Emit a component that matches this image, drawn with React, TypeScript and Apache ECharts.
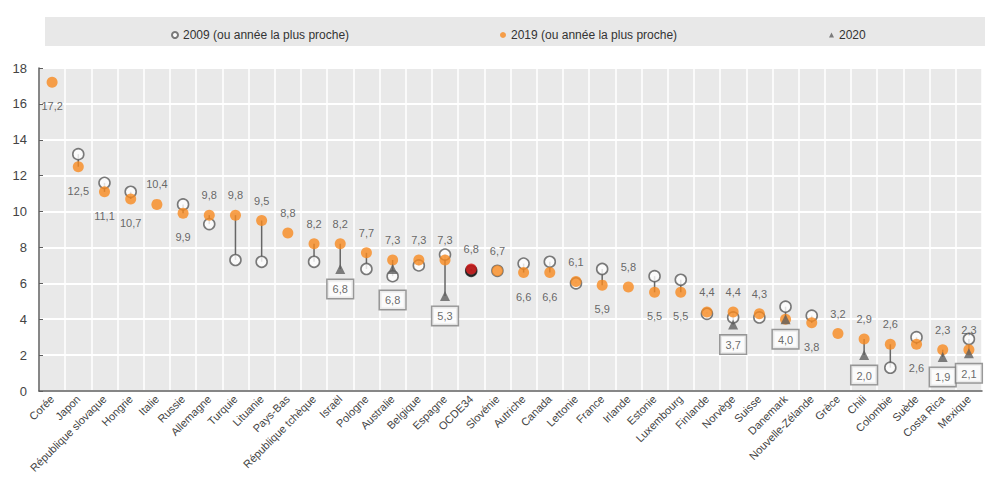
import React, { useEffect, useRef } from "react";
import * as echarts from "echarts";

const categories = [
  "Corée", "Japon", "République slovaque", "Hongrie", "Italie", "Russie", "Allemagne", "Turquie",
  "Lituanie", "Pays-Bas", "République tchèque", "Israël", "Pologne", "Australie", "Belgique", "Espagne",
  "OCDE34", "Slovénie", "Autriche", "Canada", "Lettonie", "France", "Irlande", "Estonie", "Luxembourg",
  "Finlande", "Norvège", "Suisse", "Danemark", "Nouvelle-Zélande", "Grèce", "Chili", "Colombie", "Suède",
  "Costa Rica", "Mexique",
];

const v2009: (number | null)[] = [
  null, 13.2, 11.6, 11.1, null, 10.4, 9.3, 7.3, 7.2, null, 7.2, null, 6.8, 6.4, 7.0, 7.6,
  6.7, 6.7, 7.1, 7.2, 6.0, 6.8, null, 6.4, 6.2, 4.3, 4.1, 4.1, 4.7, 4.2, null, null, 1.3, 3.0, null, 2.9,
];

const v2019: number[] = [
  17.2, 12.5, 11.1, 10.7, 10.4, 9.9, 9.8, 9.8, 9.5, 8.8, 8.2, 8.2, 7.7, 7.3, 7.3, 7.3,
  6.8, 6.7, 6.6, 6.6, 6.1, 5.9, 5.8, 5.5, 5.5, 4.4, 4.4, 4.3, 4.0, 3.8, 3.2, 2.9, 2.6, 2.6, 2.3, 2.3,
];

const v2020: (number | null)[] = [
  null, null, null, null, null, null, null, null, null, null, null, 6.8, null, 6.8, null, 5.3,
  null, null, null, null, null, null, null, null, null, null, 3.7, null, 4.0, null, null, 2.0, null, null, 1.9, 2.1,
];

const labelPos2019 = [
  "bottom", "bottom", "bottom", "bottom", "top", "bottom", "top", "top", "top", "top", "top", "top",
  "top", "top", "top", "top", "top", "top", "bottom", "bottom", "top", "bottom", "top", "bottom",
  "bottom", "top", "top", "top", "none", "bottom", "top", "top", "top", "bottom", "top", "top",
];

const legendNames = ["2009 (ou année la plus proche)", "2019 (ou année la plus proche)", "2020"];
const yTicks = { min: 0, max: 18, interval: 2 };

const ORANGE = "#f7891f";
const GREY = "#5f5f5f";
const FONT = "Liberation Sans";
const fmt = (v: number) => v.toFixed(1).replace(".", ",");

export default function App() {
  const ref = useRef<HTMLDivElement>(null);
  useEffect(() => {
    if (!ref.current) return;
    const chart = echarts.init(ref.current, undefined, { renderer: "svg" });

    const connectors = categories.map((_, i) => {
      const vals = [v2009[i], v2019[i], v2020[i]].filter((v) => v != null) as number[];
      return [i, Math.min(...vals), Math.max(...vals)];
    });

    const data2009 = v2009.map((v, i) =>
      v == null
        ? { value: null }
        : categories[i] === "OCDE34"
        ? { value: v, itemStyle: { color: "#111", borderColor: "#111" } }
        : { value: v }
    );

    const data2019 = v2019.map((v, i) => {
      const pos = labelPos2019[i];
      return {
        value: v,
        itemStyle: categories[i] === "OCDE34" ? { color: "#d91a1a" } : undefined,
        label: {
          show: pos !== "none",
          position: pos === "none" ? "top" : pos,
          distance: pos === "top" ? 9 : 13,
        },
      };
    });

    const data2020 = v2020.map((v, i) =>
      v == null
        ? { value: null }
        : { value: v, label: { distance: categories[i] === "Australie" ? 17 : 6 } }
    );

    chart.setOption({
      animation: false,
      textStyle: { fontFamily: FONT },
      graphic: [
        {
          type: "rect",
          shape: { x: 45, y: 17, width: 940, height: 29 },
          style: { fill: "#e8e8e8" },
          z: -1,
        },
      ],
      legend: [
        {
          data: [legendNames[0]],
          left: 166,
          top: 24,
          itemWidth: 6,
          itemHeight: 6,
          textStyle: { fontSize: 12, color: "#333", fontFamily: FONT },
        },
        {
          data: [legendNames[1]],
          left: 495,
          top: 24,
          itemWidth: 6,
          itemHeight: 6,
          textStyle: { fontSize: 12, color: "#333", fontFamily: FONT },
        },
        {
          data: [legendNames[2]],
          left: 824,
          top: 24,
          itemWidth: 5,
          itemHeight: 5,
          textStyle: { fontSize: 12, color: "#333", fontFamily: FONT },
        },
      ],
      grid: {
        left: 39,
        right: 18,
        top: 68,
        bottom: 105,
        show: true,
        backgroundColor: "#e9e9e9",
        borderWidth: 0,
      },
      xAxis: {
        type: "category",
        data: categories,
        boundaryGap: true,
        axisLine: { lineStyle: { color: GREY, width: 1.5 } },
        axisTick: { inside: true, length: 4, lineStyle: { color: GREY }, alignWithLabel: false },
        splitLine: { show: true, lineStyle: { color: "#ffffff", width: 1.5 } },
        axisLabel: {
          interval: 0,
          rotate: 45,
          fontSize: 11,
          color: "#444",
          margin: 6,
          fontFamily: FONT,
        },
      },
      yAxis: {
        type: "value",
        min: yTicks.min,
        max: yTicks.max,
        interval: yTicks.interval,
        axisLine: { show: true, lineStyle: { color: GREY, width: 1.5 } },
        axisTick: { show: true, inside: true, length: 4, lineStyle: { color: GREY } },
        splitLine: { show: true, lineStyle: { color: "#ffffff", width: 2 } },
        axisLabel: { fontSize: 13, color: "#444", margin: 12, fontFamily: FONT },
      },
      series: [
        {
          type: "custom",
          name: "liens",
          data: connectors,
          encode: { x: 0, y: [1, 2] },
          silent: true,
          renderItem: (params: any, api: any) => {
            const x = api.value(0);
            const p1 = api.coord([x, api.value(1)]);
            const p2 = api.coord([x, api.value(2)]);
            return {
              type: "line",
              shape: { x1: p1[0], y1: p1[1], x2: p2[0], y2: p2[1] },
              style: { stroke: "#666", lineWidth: 1.5 },
            };
          },
        },
        {
          type: "scatter",
          name: legendNames[0],
          data: data2009,
          symbol: "circle",
          symbolSize: 11,
          itemStyle: { color: "#ffffff", borderColor: "#5a5a5a", borderWidth: 1.6 },
        },
        {
          type: "scatter",
          name: legendNames[1],
          data: data2019,
          symbol: "circle",
          symbolSize: 11,
          itemStyle: { color: ORANGE },
          label: {
            show: true,
            fontSize: 11,
            color: "#444",
            fontFamily: FONT,
            formatter: (p: any) => fmt(p.value),
          },
        },
        {
          type: "scatter",
          name: legendNames[2],
          data: data2020,
          symbol: "triangle",
          symbolSize: 10,
          itemStyle: { color: GREY },
          label: {
            show: true,
            position: "bottom",
            fontSize: 11,
            color: "#444",
            fontFamily: FONT,
            backgroundColor: "#ffffff",
            borderColor: "#808080",
            borderWidth: 1.5,
            padding: [4, 5, 3, 5],
            formatter: (p: any) => fmt(p.value),
          },
        },
      ],
    });
    return () => chart.dispose();
  }, []);
  return (
    <div
      ref={ref}
      style={{ position: "fixed", left: 0, top: 0, width: 1000, height: 496, background: "#fff" }}
    />
  );
}
